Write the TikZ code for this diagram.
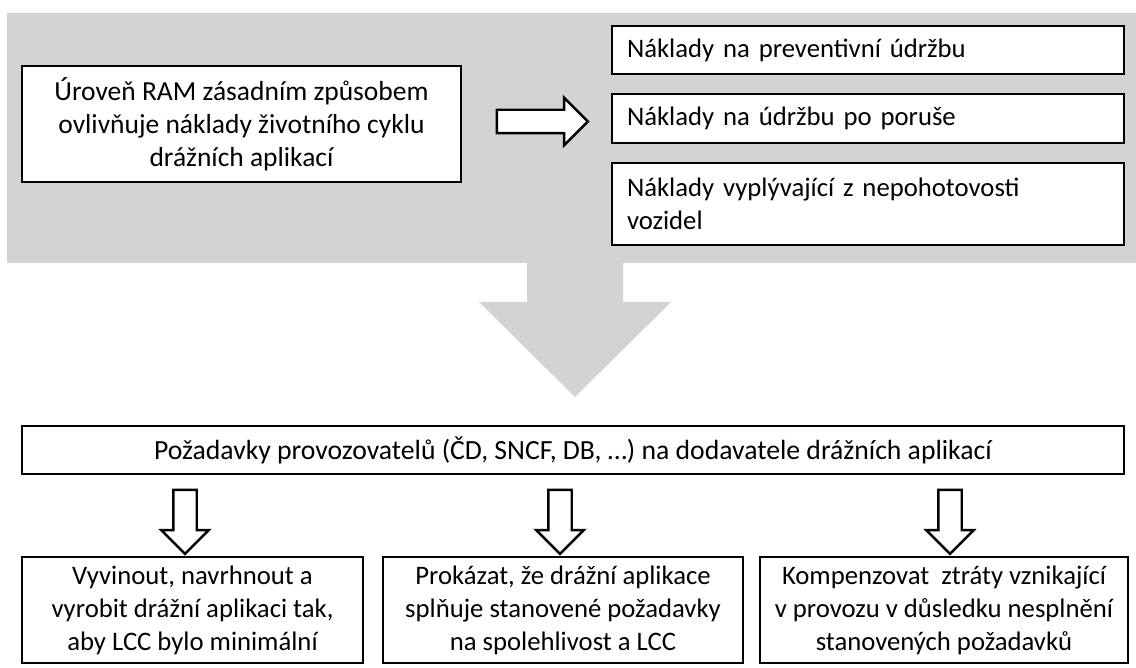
\documentclass[tikz,border=0pt]{standalone}
\usepackage{fontspec}
\setmainfont{Carlito}
\usetikzlibrary{shapes.arrows}
\definecolor{bandgray}{RGB}{211,211,211}
\tikzset{
  box/.style={draw=black, line width=2.8pt, fill=white, inner sep=0pt, outer sep=0pt,
    font=\fontsize{26.7}{33}\selectfont},
  cbox/.style={box, align=center},
  lbox/.style={box, align=left, inner xsep=15pt, text width=#1},
  hollow/.style={single arrow, draw=black, fill=white, line width=2.4pt,
    single arrow head extend=12pt, single arrow tip angle=90, inner xsep=0pt, inner ysep=10.5pt,
    outer sep=0pt, minimum width=45pt}
}
\begin{document}
\begin{tikzpicture}[x=1pt,y=-1pt]
\useasboundingbox (0,0) rectangle (1136,668);
% gray band with big arrow
\fill[bandgray] (7,13) -- (1136,13) -- (1136,263) -- (623,263) -- (623,302) -- (671,302)
  -- (575,397) -- (479,302) -- (527,302) -- (527,263) -- (7,263) -- cycle;
% top
\node[cbox, font=\fontsize{27.5}{33}\selectfont, minimum width=439pt, minimum height=116pt] (ram) at (241.5,124)
  {Úroveň RAM zásadním způsobem\\ovlivňuje náklady životního cyklu\\drážních aplikací};
\node[lbox=482pt, minimum height=48pt] (c1) at (868,50) {Náklady na preventivní údržbu};
\node[lbox=482pt, minimum height=49pt] (c2) at (868,118.5) {Náklady na údržbu po poruše};
\node[lbox=482pt, minimum height=82pt] (c3) at (868,204) {Náklady vyplývající z nepohotovosti\\vozidel};
\node[hollow, minimum height=91pt] (ar) at (536.5,121.5) {};
% bottom
\node[cbox, font=\fontsize{27.7}{33}\selectfont, minimum width=1102pt, minimum height=48pt] (req) at (573,450)
  {Požadavky provozovatelů (ČD, SNCF, DB, …) na dodavatele drážních aplikací};
\node[hollow, rotate=-90, minimum height=64pt] (d1) at (185,516) {};
\node[hollow, rotate=-90, minimum height=64pt] (d2) at (560,516) {};
\node[hollow, rotate=-90, minimum height=64pt] (d3) at (950,516) {};
\node[cbox, minimum width=341pt, minimum height=106pt] (b1) at (192.5,610)
  {Vyvinout, navrhnout a\\vyrobit drážní aplikaci tak,\\aby LCC bylo minimální};
\node[cbox, minimum width=360pt, minimum height=106pt] (b2) at (563,610)
  {Prokázat, že drážní aplikace\\splňuje stanovené požadavky\\na spolehlivost a LCC};
\node[cbox, minimum width=368pt, minimum height=106pt] (b3) at (944,610)
  {Kompenzovat~ ztráty vznikající\\v provozu v důsledku nesplnění\\stanovených požadavků};
\end{tikzpicture}
\end{document}
